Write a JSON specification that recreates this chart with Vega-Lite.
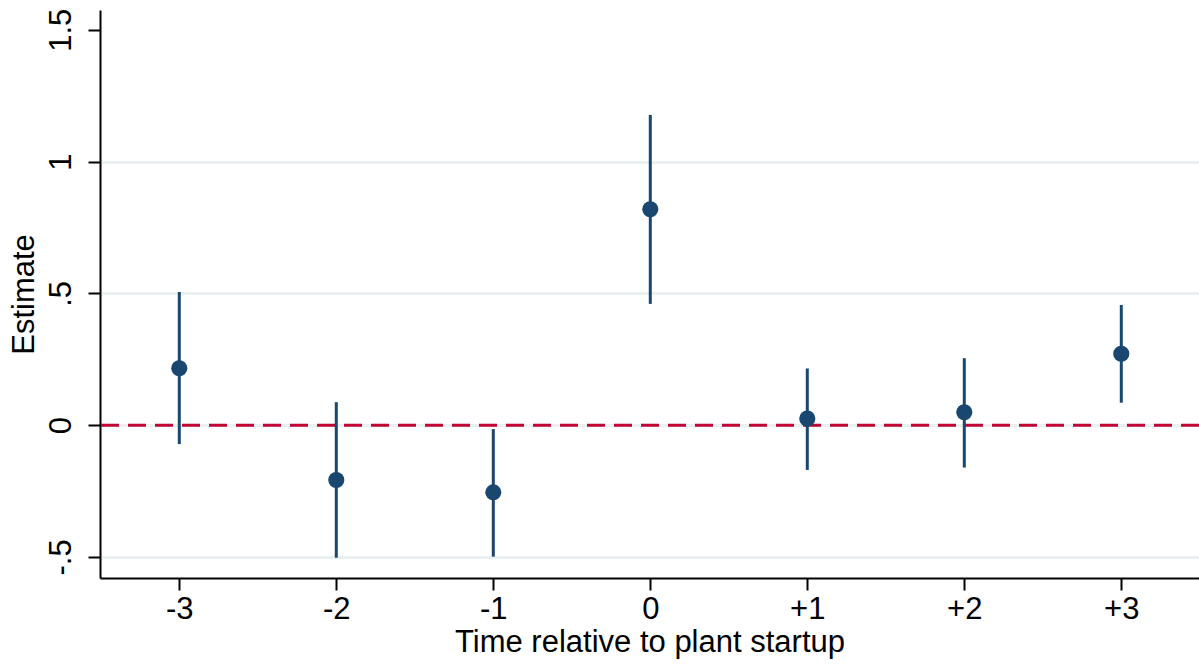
{
  "$schema": "https://vega.github.io/schema/vega-lite/v6.json",
  "autosize": "none",
  "width": 1099,
  "height": 568,
  "padding": {"left": 100, "top": 10, "right": 0, "bottom": 87},
  "background": "white",
  "config": {
    "view": {"stroke": null},
    "font": "Liberation Sans",
    "axis": {
      "labelFont": "Liberation Sans",
      "titleFont": "Liberation Sans",
      "labelFontSize": 31,
      "titleFontSize": 31,
      "titleFontWeight": "normal",
      "labelColor": "black",
      "titleColor": "black",
      "domainColor": "black",
      "domainWidth": 2,
      "tickColor": "black",
      "tickWidth": 2,
      "tickSize": 12
    }
  },
  "datasets": {
    "coef": [
      {"t": -3, "est": 0.216, "lo": -0.072, "hi": 0.505},
      {"t": -2, "est": -0.208, "lo": -0.503, "hi": 0.087},
      {"t": -1, "est": -0.255, "lo": -0.499, "hi": -0.015},
      {"t": 0, "est": 0.819, "lo": 0.460, "hi": 1.177},
      {"t": 1, "est": 0.025, "lo": -0.170, "hi": 0.215},
      {"t": 2, "est": 0.049, "lo": -0.161, "hi": 0.254},
      {"t": 3, "est": 0.271, "lo": 0.085, "hi": 0.456}
    ],
    "ref": [{"y": 0}]
  },
  "layer": [
    {
      "data": {"name": "ref"},
      "mark": {"type": "rule", "color": "#C10534", "strokeWidth": 3, "strokeDash": [18, 9]},
      "encoding": {
        "y": {
          "field": "y", "type": "quantitative",
          "scale": {"domain": [-0.58, 1.575], "nice": false, "zero": false},
          "axis": {
            "values": [-0.5, 0, 0.5, 1, 1.5],
            "title": "Estimate",
            "titlePadding": 5,
            "labelAngle": -90,
            "labelAlign": "center",
            "labelBaseline": "alphabetic",
            "labelPadding": 18,
            "labelExpr": "datum.value == 0.5 ? '.5' : (datum.value == -0.5 ? '-.5' : '' + datum.value)",
            "grid": true,
            "gridColor": "#E9F0F2",
            "gridWidth": 3,
            "gridOpacity": {"condition": {"test": "datum.value > 1.2", "value": 0}, "value": 1}
          }
        }
      }
    },
    {
      "data": {"name": "coef"},
      "mark": {"type": "rule", "color": "#1A476F", "strokeWidth": 3},
      "encoding": {
        "x": {
          "field": "t", "type": "quantitative",
          "scale": {"domain": [-3.505, 3.495], "nice": false, "zero": false},
          "axis": {
            "values": [-3, -2, -1, 0, 1, 2, 3],
            "title": "Time relative to plant startup",
            "titlePadding": 3,
            "labelPadding": 4,
            "grid": false,
            "labelExpr": "datum.value > 0 ? '+' + datum.value : '' + datum.value"
          }
        },
        "y": {"field": "lo", "type": "quantitative"},
        "y2": {"field": "hi"}
      }
    },
    {
      "data": {"name": "coef"},
      "mark": {"type": "point", "shape": "circle", "filled": true, "size": 260, "color": "#1A476F", "opacity": 1},
      "encoding": {
        "x": {"field": "t", "type": "quantitative"},
        "y": {"field": "est", "type": "quantitative"}
      }
    }
  ]
}
